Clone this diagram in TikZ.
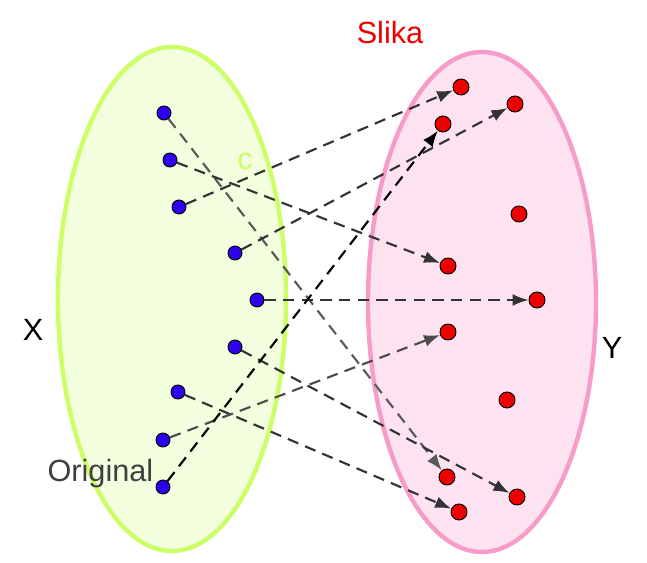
\documentclass[tikz,border=0pt]{standalone}
\usepackage{fontspec}
\setmainfont{Liberation Sans}
\usetikzlibrary{arrows.meta}
\definecolor{setgreen}{HTML}{CCFF66}
\definecolor{setgreenfill}{HTML}{F3FEDF}
\definecolor{setpink}{HTML}{F79CC8}
\definecolor{setpinkfill}{HTML}{FDE3F0}
\definecolor{dotblue}{HTML}{2E00EE}
\definecolor{dotred}{HTML}{EE0000}

\begin{document}
\begin{tikzpicture}[x=0.75pt, y=-0.75pt,
  orig/.style={circle, draw=black, line width=0.7pt, fill=dotblue, inner sep=0pt, minimum size=10.5pt},
  img/.style={circle, draw=black, line width=0.7pt, fill=dotred, inner sep=0pt, minimum size=12pt},
  link/.style={dash pattern=on 8.5pt off 5.5pt, line width=1.6pt, black!80,
               -{Latex[length=12pt, width=9pt]}},
  lbl/.style={font=\fontsize{23}{27}\selectfont}]
  \useasboundingbox (0,0) rectangle (647,563);
  % the two sets
  \draw[line width=3.3pt, setgreen, fill=setgreenfill] (172,299) ellipse [x radius=85.5pt, y radius=189pt];
  \draw[line width=3.3pt, setpink, fill=setpinkfill] (482,302) ellipse [x radius=85.5pt, y radius=187.5pt];
  % labels
  \node[lbl] (lblX) at (33,330) {X};
  \node[lbl] (lblY) at (612,348) {Y};
  \node[lbl, dotred] (slika) at (390,33) {Slika};
  \node[lbl, setgreen] (lblc) at (245,161) {c};
  \node[lbl, black!75, anchor=east] (original) at (158,474) {Original};
  % originals
  \node[orig] (x1) at (164,113) {};
  \node[orig] (x2) at (170,160) {};
  \node[orig] (x3) at (179,207) {};
  \node[orig] (x4) at (235,253) {};
  \node[orig] (x5) at (257,300) {};
  \node[orig] (x6) at (235,347) {};
  \node[orig] (x7) at (178,392) {};
  \node[orig] (x8) at (163,440) {};
  \node[orig] (x9) at (163,487) {};
  % images
  \node[img] (y1) at (461,87) {};
  \node[img] (y2) at (515,104) {};
  \node[img] (y3) at (443,124) {};
  \node[img] (y4) at (519,214) {};
  \node[img] (y5) at (448,266) {};
  \node[img] (y6) at (537,300) {};
  \node[img] (y7) at (448,332) {};
  \node[img] (y8) at (507,400) {};
  \node[img] (y9) at (447,477) {};
  \node[img] (y10) at (517,497) {};
  \node[img] (y11) at (459,512) {};
  % mapping
  \draw[link, black!65] (x1) -- (y9);
  \draw[link] (x2) -- (y5);
  \draw[link] (x3) -- (y1);
  \draw[link] (x4) -- (y2);
  \draw[link] (x5) -- (y6);
  \draw[link] (x6) -- (y10);
  \draw[link] (x7) -- (y11);
  \draw[link, black!70] (x8) -- (y7);
  \draw[link, black] (x9) -- (y3);
\end{tikzpicture}
\end{document}
